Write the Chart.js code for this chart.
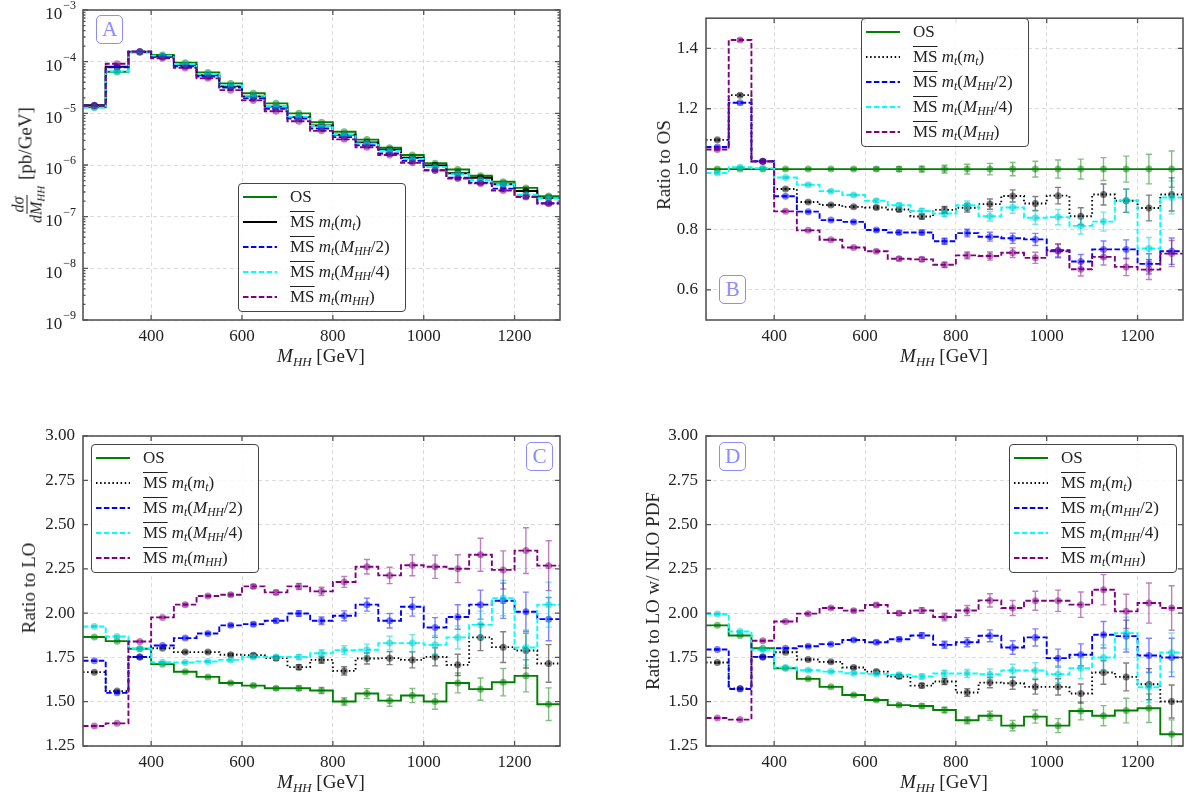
<!DOCTYPE html>
<html>
<head>
<meta charset="utf-8">
<script src="https://cdn.jsdelivr.net/npm/chart.js@4.4.1/dist/chart.umd.min.js"></script>
<style>
  body { margin: 0; background: #fff; }
  #wrap { position: relative; width: 1188px; height: 801px; overflow: hidden; font-family: 'Liberation Serif', serif; color: #222; }
  canvas { position: absolute; }
  .legend { position: absolute; background: rgba(255,255,255,0.85); border: 1px solid #444; border-radius: 4px; box-sizing: border-box; }
  .row { height: 25px; display: flex; align-items: center; font-size: 17px; white-space: nowrap; }
  .row svg { margin-left: 4px; margin-right: 13px; flex: none; }
  .ms { text-decoration: overline; text-decoration-thickness: 1px; }
  sub { font-size: 0.68em; vertical-align: -0.3em; line-height: 0; }
  .tag { position: absolute; width: 27px; height: 29px; box-sizing: border-box; border: 1.4px solid #8c8cff; border-radius: 5px;
         color: #8c8cff; font-size: 21px; text-align: center; line-height: 27px; background: #fff; }
  .xt { position: absolute; font-size: 19px; transform: translate(-50%, -50%); white-space: nowrap; }
  .yt { position: absolute; font-size: 19px; transform: translate(-50%, -50%) rotate(-90deg); white-space: nowrap; }
  .frac { display: inline-flex; flex-direction: column; align-items: center; vertical-align: middle; font-size: 16px; line-height: 17px; margin-right: 6px; }
  .frac .num { border-bottom: 1px solid #222; padding: 0 2px; }
</style>
</head>
<body>
<div id="wrap">
  <canvas id="chartA" width="594" height="400" style="left:0;top:0"></canvas>
  <canvas id="chartB" width="594" height="400" style="left:594px;top:0"></canvas>
  <canvas id="chartC" width="594" height="401" style="left:0;top:400px"></canvas>
  <canvas id="chartD" width="594" height="401" style="left:594px;top:400px"></canvas>

  <div class="tag" style="left:96px;top:15px">A</div>
  <div class="tag" style="left:719px;top:275px">B</div>
  <div class="tag" style="left:526px;top:442px">C</div>
  <div class="tag" style="left:719px;top:442px">D</div>

  <div class="xt" style="left:321px;top:356px"><i>M</i><sub><i>HH</i></sub> [GeV]</div>
  <div class="xt" style="left:944px;top:356px"><i>M</i><sub><i>HH</i></sub> [GeV]</div>
  <div class="xt" style="left:321px;top:782px"><i>M</i><sub><i>HH</i></sub> [GeV]</div>
  <div class="xt" style="left:944px;top:782px"><i>M</i><sub><i>HH</i></sub> [GeV]</div>

  <div class="yt" style="left:27px;top:165px"><span class="frac"><span class="num"><i>dσ</i></span><span><i>dM</i><sub><i>HH</i></sub></span></span>[pb/GeV]</div>
  <div class="yt" style="left:664px;top:165px">Ratio to OS</div>
  <div class="yt" style="left:29px;top:588px">Ratio to LO</div>
  <div class="yt" style="left:653px;top:591px">Ratio to LO w/ NLO PDF</div>
</div>

<script>
  // binning (GeV)
  const binEdges = [250, 300, 350, 400, 450, 500, 550, 600, 650, 700, 750, 800, 850, 900, 950, 1000, 1050, 1100, 1150, 1200, 1250, 1300];
  const binCenters = [275, 325, 375, 425, 475, 525, 575, 625, 675, 725, 775, 825, 875, 925, 975, 1025, 1075, 1125, 1175, 1225, 1275];
  const xTicks = [400, 600, 800, 1000, 1200];
  const yTicksA = [1e-9, 1e-8, 1e-7, 1e-6, 1e-5, 1e-4, 1e-3];
  const yTicksB = [0.6, 0.8, 1.0, 1.2, 1.4];
  const yTicksCD = [1.25, 1.5, 1.75, 2.0, 2.25, 2.5, 2.75, 3.0];

  // A: dsigma/dM_HH [pb/GeV]
  const xsecOS = [1.31e-5, 6.4e-5, 1.52e-4, 1.35e-4, 9.5e-5, 6.2e-5, 3.8e-5, 2.44e-5, 1.56e-5, 1.0e-5, 6.7e-6, 4.4e-6, 3.1e-6, 2.16e-6, 1.56e-6, 1.08e-6, 8.2e-7, 6.2e-7, 4.75e-7, 3.6e-7, 2.5e-7];
  const xsecMt = [1.44e-5, 7.97e-5, 1.56e-4, 1.26e-4, 8.46e-5, 5.46e-5, 3.33e-5, 2.13e-5, 1.35e-5, 8.43e-6, 5.80e-6, 3.84e-6, 2.74e-6, 1.97e-6, 1.38e-6, 9.85e-7, 6.92e-7, 5.68e-7, 4.25e-7, 3.14e-7, 2.29e-7];
  const xsecHalf = [1.41e-5, 7.81e-5, 1.56e-4, 1.23e-4, 8.16e-5, 5.15e-5, 3.14e-5, 1.95e-5, 1.23e-5, 7.90e-6, 5.10e-6, 3.47e-6, 2.41e-6, 1.67e-6, 1.20e-6, 7.89e-7, 5.69e-7, 4.55e-7, 3.49e-7, 2.47e-7, 1.82e-7];
  const xsecQuarter = [1.29e-5, 6.44e-5, 1.52e-4, 1.31e-4, 9.01e-5, 5.75e-5, 3.47e-5, 2.18e-5, 1.37e-5, 8.61e-6, 5.72e-6, 3.87e-6, 2.62e-6, 1.89e-6, 1.31e-6, 9.08e-7, 6.66e-7, 5.12e-7, 4.26e-7, 2.65e-7, 2.27e-7];
  const xsecFull = [1.40e-5, 9.14e-5, 1.56e-4, 1.16e-4, 7.57e-5, 4.75e-5, 2.81e-5, 1.78e-5, 1.10e-5, 7.01e-6, 4.58e-6, 3.14e-6, 2.21e-6, 1.56e-6, 1.10e-6, 7.86e-7, 5.48e-7, 4.40e-7, 3.21e-7, 2.40e-7, 1.80e-7];

  // B: ratio to OS
  const ratioOS = [1, 1, 1, 1, 1, 1, 1, 1, 1, 1, 1, 1, 1, 1, 1, 1, 1, 1, 1, 1, 1];
  const ratioMt = [1.097, 1.245, 1.026, 0.934, 0.891, 0.881, 0.875, 0.873, 0.866, 0.843, 0.865, 0.872, 0.884, 0.911, 0.886, 0.912, 0.844, 0.916, 0.895, 0.871, 0.916];
  const ratioHalf = [1.073, 1.220, 1.026, 0.910, 0.859, 0.831, 0.825, 0.798, 0.790, 0.790, 0.761, 0.788, 0.776, 0.771, 0.767, 0.731, 0.694, 0.734, 0.734, 0.686, 0.728];
  const ratioQuarter = [0.987, 1.006, 1.003, 0.972, 0.948, 0.927, 0.914, 0.895, 0.880, 0.861, 0.853, 0.880, 0.844, 0.873, 0.839, 0.841, 0.812, 0.826, 0.896, 0.737, 0.906];
  const ratioFull = [1.065, 1.428, 1.025, 0.860, 0.797, 0.766, 0.740, 0.728, 0.703, 0.701, 0.683, 0.714, 0.712, 0.723, 0.706, 0.728, 0.668, 0.709, 0.676, 0.667, 0.720];

  // C: ratio to LO
  const loOS = [1.865, 1.842, 1.799, 1.712, 1.669, 1.640, 1.606, 1.591, 1.576, 1.576, 1.563, 1.501, 1.546, 1.506, 1.535, 1.501, 1.606, 1.571, 1.610, 1.646, 1.486];
  const loMt = [1.667, 1.560, 1.752, 1.802, 1.780, 1.780, 1.765, 1.763, 1.746, 1.695, 1.736, 1.674, 1.744, 1.746, 1.736, 1.753, 1.708, 1.863, 1.808, 1.789, 1.716];
  const loHalf = [1.731, 1.550, 1.752, 1.817, 1.859, 1.885, 1.931, 1.938, 1.957, 1.998, 1.957, 1.985, 2.048, 1.957, 2.036, 1.919, 1.978, 2.048, 2.070, 2.008, 1.966];
  const loQuarter = [1.925, 1.868, 1.799, 1.723, 1.721, 1.727, 1.736, 1.752, 1.752, 1.752, 1.774, 1.791, 1.793, 1.831, 1.831, 1.821, 1.863, 1.934, 2.085, 1.806, 2.048];
  const loFull = [1.363, 1.378, 1.840, 1.976, 2.048, 2.097, 2.104, 2.151, 2.117, 2.151, 2.123, 2.176, 2.262, 2.213, 2.270, 2.262, 2.251, 2.330, 2.244, 2.353, 2.268];

  // D: ratio to LO with NLO PDF
  const pdfOS = [1.931, 1.874, 1.802, 1.689, 1.629, 1.584, 1.538, 1.510, 1.481, 1.476, 1.453, 1.395, 1.421, 1.365, 1.416, 1.365, 1.448, 1.421, 1.450, 1.463, 1.316];
  const pdfMt = [1.721, 1.575, 1.753, 1.779, 1.738, 1.725, 1.693, 1.670, 1.642, 1.591, 1.614, 1.552, 1.608, 1.604, 1.584, 1.584, 1.546, 1.665, 1.640, 1.599, 1.501];
  const pdfHalf = [1.795, 1.572, 1.753, 1.802, 1.813, 1.825, 1.848, 1.836, 1.853, 1.874, 1.821, 1.836, 1.872, 1.806, 1.863, 1.746, 1.765, 1.878, 1.870, 1.761, 1.750];
  const pdfQuarter = [1.995, 1.896, 1.793, 1.693, 1.678, 1.670, 1.661, 1.657, 1.652, 1.642, 1.659, 1.659, 1.655, 1.676, 1.676, 1.655, 1.689, 1.750, 1.887, 1.582, 1.778];
  const pdfFull = [1.408, 1.399, 1.844, 1.953, 1.997, 2.029, 2.014, 2.046, 2.000, 2.015, 1.978, 2.015, 2.072, 2.029, 2.070, 2.070, 2.048, 2.132, 2.010, 2.057, 2.029];

  // relative statistical uncertainty per bin
  const errRatio = [0.003, 0.003, 0.003, 0.003, 0.003, 0.003, 0.004, 0.006, 0.008, 0.010, 0.013, 0.016, 0.019, 0.022, 0.026, 0.030, 0.033, 0.038, 0.043, 0.049, 0.060];
  const errLO = [0.002, 0.002, 0.002, 0.002, 0.003, 0.003, 0.004, 0.005, 0.006, 0.008, 0.011, 0.014, 0.018, 0.021, 0.026, 0.029, 0.035, 0.040, 0.048, 0.055, 0.062];

  const colors = ['#008000', '#000000', '#0000ff', '#00ffff', '#800080'];
  const markerColors = ['rgba(0,128,0,0.5)', 'rgba(0,0,0,0.5)', 'rgba(0,0,255,0.5)', 'rgba(0,210,210,0.55)', 'rgba(128,0,128,0.5)'];
  const dashA = [[], [], [5.5, 2.4], [5.5, 2.4], [5.5, 2.4]];
  const dashRatio = [[], [1.5, 2.6], [5.5, 2.4], [5.5, 2.4], [5.5, 2.4]];

  Chart.defaults.font.family = "'Liberation Serif', serif";
  Chart.defaults.color = '#222';
  const tickFont = { size: 17 };

  function buildDatasets(series, dashes, err) {
    const out = [];
    series.forEach((vals, k) => {
      const steps = vals.map((v, i) => ({ x: binEdges[i], y: v }));
      steps.push({ x: binEdges[binEdges.length - 1], y: vals[vals.length - 1] });
      out.push({
        data: steps, stepped: true, borderColor: colors[k], borderWidth: 1.9,
        borderDash: dashes[k], pointRadius: 0, fill: false, order: 20 - k
      });
      out.push({
        data: vals.map((v, i) => ({ x: binCenters[i], y: v })), showLine: false,
        pointRadius: 3.5, pointBorderWidth: 0, pointBackgroundColor: markerColors[k],
        order: 10 - k, err: err, errColor: markerColors[k]
      });
    });
    return out;
  }

  // error bars, inward ticks, frame, log tick labels
  const decor = {
    id: 'decor',
    beforeDatasetDraw(chart, args) {
      const ds = chart.data.datasets[args.index];
      if (!ds.err) return;
      const ctx = chart.ctx, a = chart.chartArea, xs = chart.scales.x, ys = chart.scales.y;
      ctx.save();
      ctx.beginPath(); ctx.rect(a.left, a.top, a.right - a.left, a.bottom - a.top); ctx.clip();
      ctx.strokeStyle = ds.errColor; ctx.lineWidth = 1.4;
      ds.data.forEach((p, i) => {
        const e = p.y * ds.err[i];
        const px = xs.getPixelForValue(p.x);
        const y1 = ys.getPixelForValue(p.y - e), y2 = ys.getPixelForValue(p.y + e);
        ctx.beginPath();
        ctx.moveTo(px, y1); ctx.lineTo(px, y2);
        ctx.moveTo(px - 3, y1); ctx.lineTo(px + 3, y1);
        ctx.moveTo(px - 3, y2); ctx.lineTo(px + 3, y2);
        ctx.stroke();
      });
      ctx.restore();
    },
    afterDraw(chart, args, opts) {
      const ctx = chart.ctx, a = chart.chartArea, xs = chart.scales.x, ys = chart.scales.y;
      ctx.save();
      ctx.strokeStyle = '#555'; ctx.lineWidth = 1.3;
      ctx.beginPath();
      xTicks.forEach(v => {
        const px = xs.getPixelForValue(v);
        ctx.moveTo(px, a.bottom); ctx.lineTo(px, a.bottom - 5);
        ctx.moveTo(px, a.top); ctx.lineTo(px, a.top + 5);
      });
      ys.ticks.forEach(t => {
        const py = ys.getPixelForValue(t.value);
        ctx.moveTo(a.left, py); ctx.lineTo(a.left + 5, py);
        ctx.moveTo(a.right, py); ctx.lineTo(a.right - 5, py);
      });
      if (opts.log) {
        for (let e = -9; e < -3; e++) {
          for (let k = 2; k <= 9; k++) {
            const py = ys.getPixelForValue(k * Math.pow(10, e));
            ctx.moveTo(a.left, py); ctx.lineTo(a.left + 2.5, py);
            ctx.moveTo(a.right, py); ctx.lineTo(a.right - 2.5, py);
          }
        }
      }
      ctx.stroke();
      ctx.lineWidth = 1.6;
      ctx.strokeRect(a.left, a.top, a.right - a.left, a.bottom - a.top);
      if (opts.log) {
        ctx.fillStyle = '#222'; ctx.textBaseline = 'middle'; ctx.textAlign = 'right';
        yTicksA.forEach(v => {
          const py = ys.getPixelForValue(v);
          const ex = '\u2212' + Math.round(-Math.log10(v));
          ctx.font = "12px 'Liberation Serif'";
          const ew = ctx.measureText(ex).width;
          const xr = a.left - 7;
          ctx.fillText(ex, xr, py - 4);
          ctx.font = "17px 'Liberation Serif'";
          ctx.fillText('10', xr - ew - 1, py + 5);
        });
      }
      ctx.restore();
    }
  };

  function xScale(h) {
    return {
      type: 'linear', min: 250, max: 1300,
      afterBuildTicks: s => { s.ticks = xTicks.map(v => ({ value: v })); },
      afterFit: s => { s.height = h; },
      ticks: { font: tickFont, padding: 6, maxRotation: 0, autoSkip: false, callback: v => String(v) },
      grid: { color: '#dcdcdc', lineWidth: 1, drawTicks: false },
      border: { display: false, dash: [4, 3] }
    };
  }

  function yScale(w, ticks, min, max, digits) {
    return {
      type: 'linear', min: min, max: max,
      afterBuildTicks: s => { s.ticks = ticks.map(v => ({ value: v })); },
      afterFit: s => { s.width = w; },
      ticks: { font: tickFont, padding: 8, autoSkip: false, callback: v => Number(v).toFixed(digits) },
      grid: { color: '#dcdcdc', lineWidth: 1, drawTicks: false },
      border: { display: false, dash: [4, 3] }
    };
  }

  function makeChart(id, datasets, yOpts, xHeight, pad, log) {
    return new Chart(document.getElementById(id), {
      type: 'line',
      data: { datasets: datasets },
      options: {
        responsive: false, animation: false, devicePixelRatio: 1,
        layout: { padding: pad },
        scales: { x: xScale(xHeight), y: yOpts },
        plugins: { legend: { display: false }, tooltip: { enabled: false }, decor: { log: log } }
      },
      plugins: [decor]
    });
  }

  const yA = {
    type: 'logarithmic', min: 1e-9, max: 1e-3,
    afterBuildTicks: s => { s.ticks = yTicksA.map(v => ({ value: v })); },
    afterFit: s => { s.width = 83; },
    ticks: { display: false },
    grid: { color: '#dcdcdc', lineWidth: 1, drawTicks: false },
    border: { display: false, dash: [4, 3] }
  };

  makeChart('chartA', buildDatasets([xsecOS, xsecMt, xsecHalf, xsecQuarter, xsecFull], dashA, errLO),
    yA, 80, { top: 10, right: 34, left: 0, bottom: 0 }, true);
  makeChart('chartB', buildDatasets([ratioOS, ratioMt, ratioHalf, ratioQuarter, ratioFull], dashRatio, errRatio),
    yScale(112, yTicksB, 0.5, 1.5, 1), 80, { top: 10, right: 5, left: 0, bottom: 0 }, false);
  makeChart('chartC', buildDatasets([loOS, loMt, loHalf, loQuarter, loFull], dashRatio, errLO),
    yScale(83, yTicksCD, 1.25, 3.0, 2), 55, { top: 36, right: 34, left: 0, bottom: 0 }, false);
  makeChart('chartD', buildDatasets([pdfOS, pdfMt, pdfHalf, pdfQuarter, pdfFull], dashRatio, errLO),
    yScale(112, yTicksCD, 1.25, 3.0, 2), 55, { top: 36, right: 5, left: 0, bottom: 0 }, false);

  // legends (HTML, so the math labels keep overline and subscripts)
  const ms = '<span class="ms">MS</span>&nbsp;';
  const mt = '<i>m</i><sub><i>t</i></sub>';
  const MHH = '<i>M</i><sub><i>HH</i></sub>';
  const mHH = '<i>m</i><sub><i>HH</i></sub>';
  const lbl = arg => ms + mt + '(' + arg + ')';
  const labelsA = ['OS', lbl(mt), lbl(MHH + '/2'), lbl(MHH + '/4'), lbl(mHH)];
  const labelsB = ['OS', lbl(mt), lbl(MHH + '/2'), lbl(MHH + '/4'), lbl(MHH)];
  const labelsC = ['OS', lbl(mt), lbl(MHH + '/2'), lbl(MHH + '/4'), lbl(mHH)];
  const labelsD = ['OS', lbl(mt), lbl(mHH + '/2'), lbl(mHH + '/4'), lbl(mHH)];

  function addLegend(left, top, labels, dashes) {
    const box = document.createElement('div');
    box.className = 'legend';
    box.style.cssText = `left:${left}px;top:${top}px;width:168px;height:129px`;
    box.innerHTML = labels.map((t, k) =>
      `<div class="row"><svg width="34" height="10"><line x1="0" y1="5" x2="34" y2="5" stroke="${colors[k]}" stroke-width="2" stroke-dasharray="${dashes[k].join(' ') || 'none'}"/></svg><span>${t}</span></div>`
    ).join('');
    document.getElementById('wrap').appendChild(box);
  }
  addLegend(238, 183, labelsA, dashA);
  addLegend(861, 18, labelsB, dashRatio);
  addLegend(91, 444, labelsC, dashRatio);
  addLegend(1009, 444, labelsD, dashRatio);
</script>
</body>
</html>
